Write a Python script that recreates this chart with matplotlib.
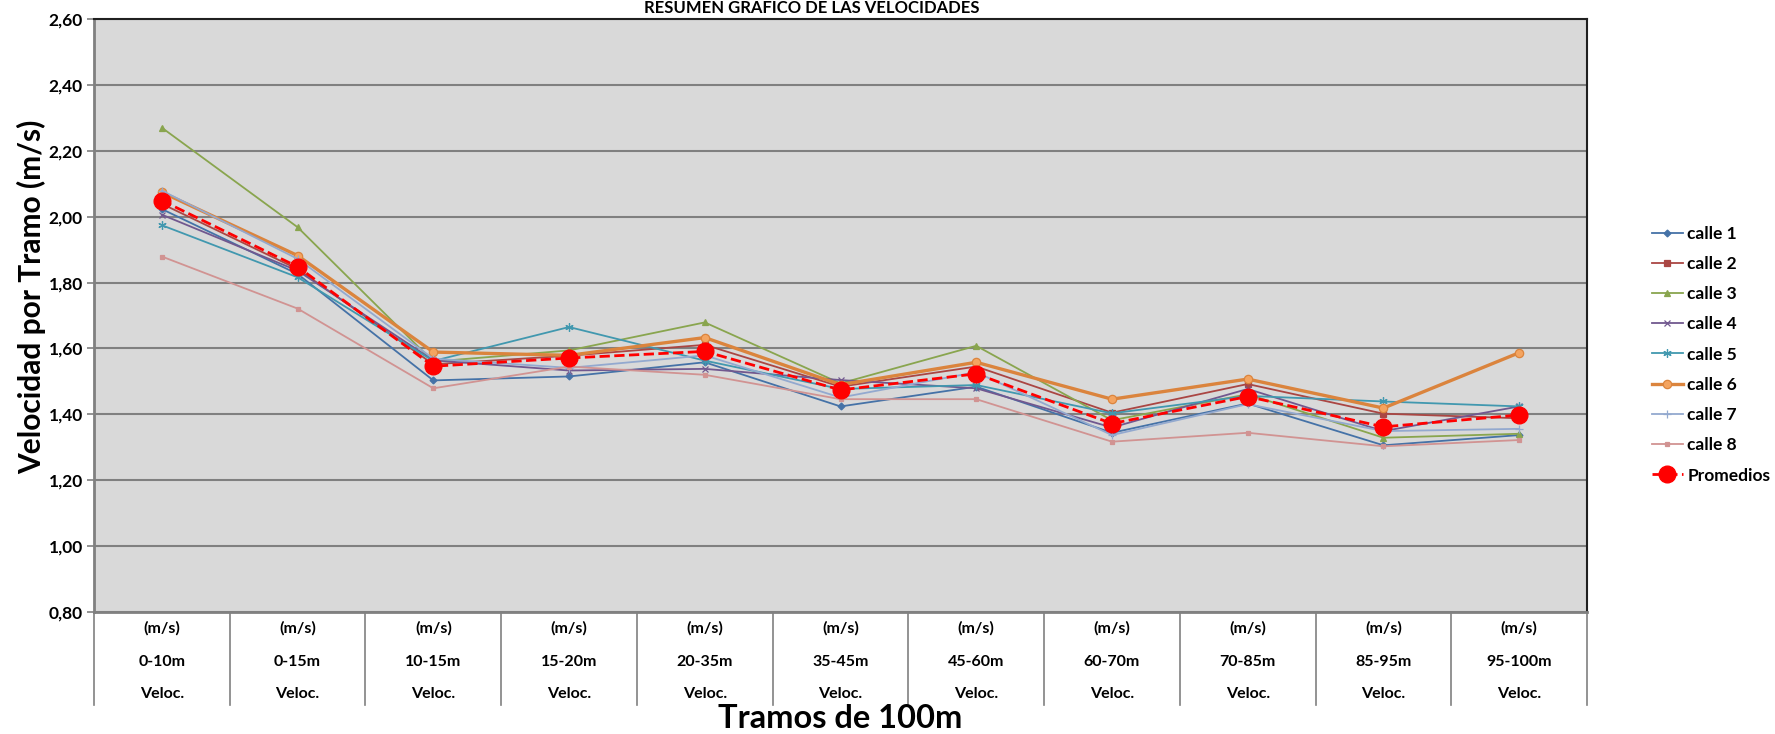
import numpy as np
import matplotlib.pyplot as plt
from matplotlib.lines import Line2D

plt.rcParams['font.family'] = ['Lato', 'DejaVu Sans']

# tramos (categorias del eje x)
tramos = ["0-10m", "0-15m", "10-15m", "15-20m", "20-35m", "35-45m",
          "45-60m", "60-70m", "70-85m", "85-95m", "95-100m"]

# velocidades por calle (m/s)
calle_1 = [2.023, 1.826, 1.503, 1.515, 1.558, 1.424, 1.484, 1.344, 1.433, 1.306, 1.337]
calle_2 = [2.039, 1.841, 1.552, 1.578, 1.611, 1.484, 1.545, 1.405, 1.492, 1.402, 1.388]
calle_3 = [2.270, 1.968, 1.560, 1.594, 1.679, 1.494, 1.608, 1.382, 1.461, 1.329, 1.341]
calle_4 = [2.006, 1.836, 1.564, 1.533, 1.538, 1.504, 1.479, 1.360, 1.477, 1.349, 1.424]
calle_5 = [1.974, 1.816, 1.562, 1.665, 1.563, 1.477, 1.489, 1.403, 1.456, 1.439, 1.424]
calle_6 = [2.074, 1.882, 1.589, 1.579, 1.633, 1.490, 1.558, 1.446, 1.507, 1.419, 1.587]
calle_7 = [2.079, 1.872, 1.569, 1.541, 1.579, 1.451, 1.528, 1.337, 1.431, 1.349, 1.356]
calle_8 = [1.879, 1.721, 1.479, 1.545, 1.520, 1.446, 1.446, 1.317, 1.344, 1.303, 1.322]
promedios = [2.049, 1.848, 1.546, 1.571, 1.591, 1.474, 1.523, 1.372, 1.454, 1.362, 1.398]

series = [
    ("calle 1", calle_1, "#4572A7", "D", 3.5, 1.3),
    ("calle 2", calle_2, "#AA4643", "s", 4, 1.3),
    ("calle 3", calle_3, "#89A54E", "^", 4.5, 1.3),
    ("calle 4", calle_4, "#71588F", "x", 5, 1.3),
    ("calle 5", calle_5, "#4198AF", (6, 2, 0), 6, 1.3),
    ("calle 6", calle_6, "#DB843D", "o", 6, 2.4),
    ("calle 7", calle_7, "#93A9CF", "+", 6, 1.3),
    ("calle 8", calle_8, "#D19392", "s", 3, 1.3),
]

fig = plt.figure(figsize=(17.75, 7.34), dpi=100)
ax = fig.add_axes([94 / 1775, 1 - 612 / 734, (1587 - 94) / 1775, (612 - 19) / 734])
ax.set_facecolor("#D9D9D9")

x = np.arange(len(tramos))
for name, vals, col, mk, ms, lw in series:
    mfc = "#F4A460" if name == "calle 6" else col
    ax.plot(x, vals, color=col, marker=mk, markersize=ms, linewidth=lw,
            markerfacecolor=mfc, markeredgecolor=col, markeredgewidth=0.9, label=name)
ax.plot(x, promedios, color="red", linestyle="--", linewidth=2, marker="o",
        markersize=12, markerfacecolor="red", markeredgecolor="red", label="Promedios")

ax.set_xlim(-0.5, len(tramos) - 0.5)
ax.set_ylim(0.8, 2.6)
yt = np.arange(0.8, 2.61, 0.2)
ax.set_yticks(yt)
ax.set_yticklabels([f"{v:.2f}".replace(".", ",") for v in yt], fontsize=12.5, fontweight="bold")
ax.tick_params(axis="y", length=5, color="#808080", width=1.2, pad=3)
ax.set_xticks([])
ax.yaxis.grid(True, color="#808080", linewidth=1.5)
ax.set_axisbelow(True)
for s in ["left", "bottom"]:
    ax.spines[s].set_color("#808080")
    ax.spines[s].set_linewidth(2)
for s in ["top", "right"]:
    ax.spines[s].set_color("#202020")
    ax.spines[s].set_linewidth(1.5)

# tabla de categorias debajo del eje
trans = ax.get_xaxis_transform()
for i in range(len(tramos) + 1):
    ax.add_line(Line2D([i - 0.5, i - 0.5], [0, -0.157], transform=trans,
                       color="#808080", linewidth=1.2, clip_on=False))
for i, t in enumerate(tramos):
    ax.text(i, -0.027, "(m/s)", transform=trans, ha="center", va="center",
            fontsize=11.5, fontweight="bold")
    ax.text(i, -0.084, t, transform=trans, ha="center", va="center",
            fontsize=11.5, fontweight="bold")
    ax.text(i, -0.138, "Veloc.", transform=trans, ha="center", va="center",
            fontsize=11.5, fontweight="bold")

fig.text(840 / 1775, 1 - 718 / 734, "Tramos de 100m", ha="center", va="center",
         fontsize=23.5, fontweight="bold")
fig.text(32 / 1775, 1 - 297 / 734, "Velocidad por Tramo (m/s)", ha="center", va="center",
         rotation=90, fontsize=21.5, fontweight="bold")
fig.text(812 / 1775, 1.0, "RESUMEN GRÁFICO DE LAS VELOCIDADES", ha="center",
         va="top", fontsize=12, fontweight="bold")

fig.legend(loc="upper left", bbox_to_anchor=(1636 / 1775, 1 - 210 / 734), frameon=False,
           prop={"size": 12.5, "weight": "bold"}, handlelength=1.8, handletextpad=0.25,
           labelspacing=0.82)

fig.savefig("out.png", dpi=100)
